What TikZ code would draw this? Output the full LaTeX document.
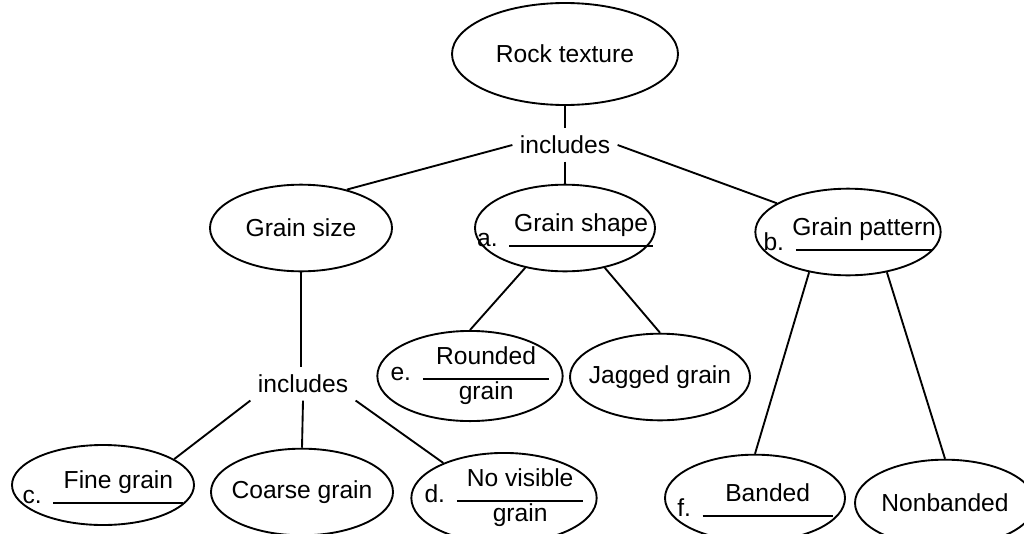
\documentclass[tikz,border=0pt]{standalone}
\usepackage{fontspec}
\setmainfont{Liberation Sans}
\usetikzlibrary{shapes.geometric}
\setlength{\arrayrulewidth}{0.8pt}
% blank to fill in: [line width]{letter}{answer}
\newcommand{\answer}[3][1.95cm]{\makebox[0pt]{\begin{tabular}{@{}l@{\hspace{5pt}}c@{}}%
  \smash{\raisebox{-6.5pt}{#2}} & \makebox[#1]{#3}\\[2pt]\cline{2-2}\end{tabular}}}
% same, answer on two lines
\newcommand{\answertwo}[4][1.9cm]{\makebox[0pt]{\begin{tabular}{@{}l@{\hspace{5pt}}c@{}}%
  \smash{\raisebox{-6.5pt}{#2}} & \makebox[#1]{#3}\\[2pt]\cline{2-2}
  & #4\end{tabular}}}

\begin{document}
\begin{tikzpicture}[x=0.015cm,y=-0.015cm,
  font=\fontsize{10.5}{12.6}\selectfont,
  concept/.style={ellipse,draw,line width=0.8pt,minimum width=2.73cm,
    minimum height=1.3cm,inner xsep=-6pt,inner ysep=0pt},
  joiner/.style={inner sep=3pt},
  link/.style={draw,line width=0.8pt}]
\useasboundingbox (0,0) rectangle (1024,533);
\clip (0,0) rectangle (1024,533);

% top
\node[concept,minimum width=3.39cm,minimum height=1.53cm] (rock) at (565,54) {Rock texture};
\node[joiner] (inc1) at (565,145) {includes};

% second row
\node[concept] (size) at (301,228) {Grain size};
\node[concept,minimum width=2.7cm] (shape) at (565,228) {\answer[2.15cm]{a.}{Grain shape}};
\node[concept,minimum width=2.78cm] (pattern) at (848,232) {\answer[2.05cm]{b.}{Grain pattern}};

% under grain shape
\node[concept,minimum width=2.78cm,minimum height=1.35cm] (rounded) at (470,376) {\answertwo{e.}{Rounded}{grain}};
\node[concept,minimum width=2.7cm] (jagged) at (660,377) {Jagged grain};

% under grain size
\node[joiner] (inc2) at (303,384) {includes};
\node[concept,minimum height=1.2cm] (fine) at (103,485) {\answer{c.}{Fine grain}};
\node[concept] (coarse) at (302,492) {Coarse grain};
\node[concept,minimum width=2.78cm,minimum height=1.35cm] (novis) at (504,498) {\answertwo{d.}{No visible}{grain}};

% under grain pattern
\node[concept,minimum width=2.7cm] (banded) at (755,498) {\answer{f.}{Banded}};
\node[concept,minimum width=2.7cm] (nonbanded) at (945,503) {Nonbanded};

% connectors
\draw[link] (rock) -- (inc1);
\draw[link] (inc1.west) -- (size.40);
\draw[link] (inc1) -- (shape);
\draw[link] (inc1.east) -- (pattern.158);
\draw[link] (shape.225) -- (rounded.north);
\draw[link] (shape.-45) -- (jagged.north);
\draw[link] (size.south) -- (size.south |- inc2.north);
\draw[link] (inc2.south west) -- (fine.20);
\draw[link] (inc2.south) -- (coarse.north);
\draw[link] (inc2.south east) -- (novis.150);
\draw[link] (pattern.226) -- (banded.north);
\draw[link] (pattern.-46) -- (nonbanded.north);
\end{tikzpicture}
\end{document}
